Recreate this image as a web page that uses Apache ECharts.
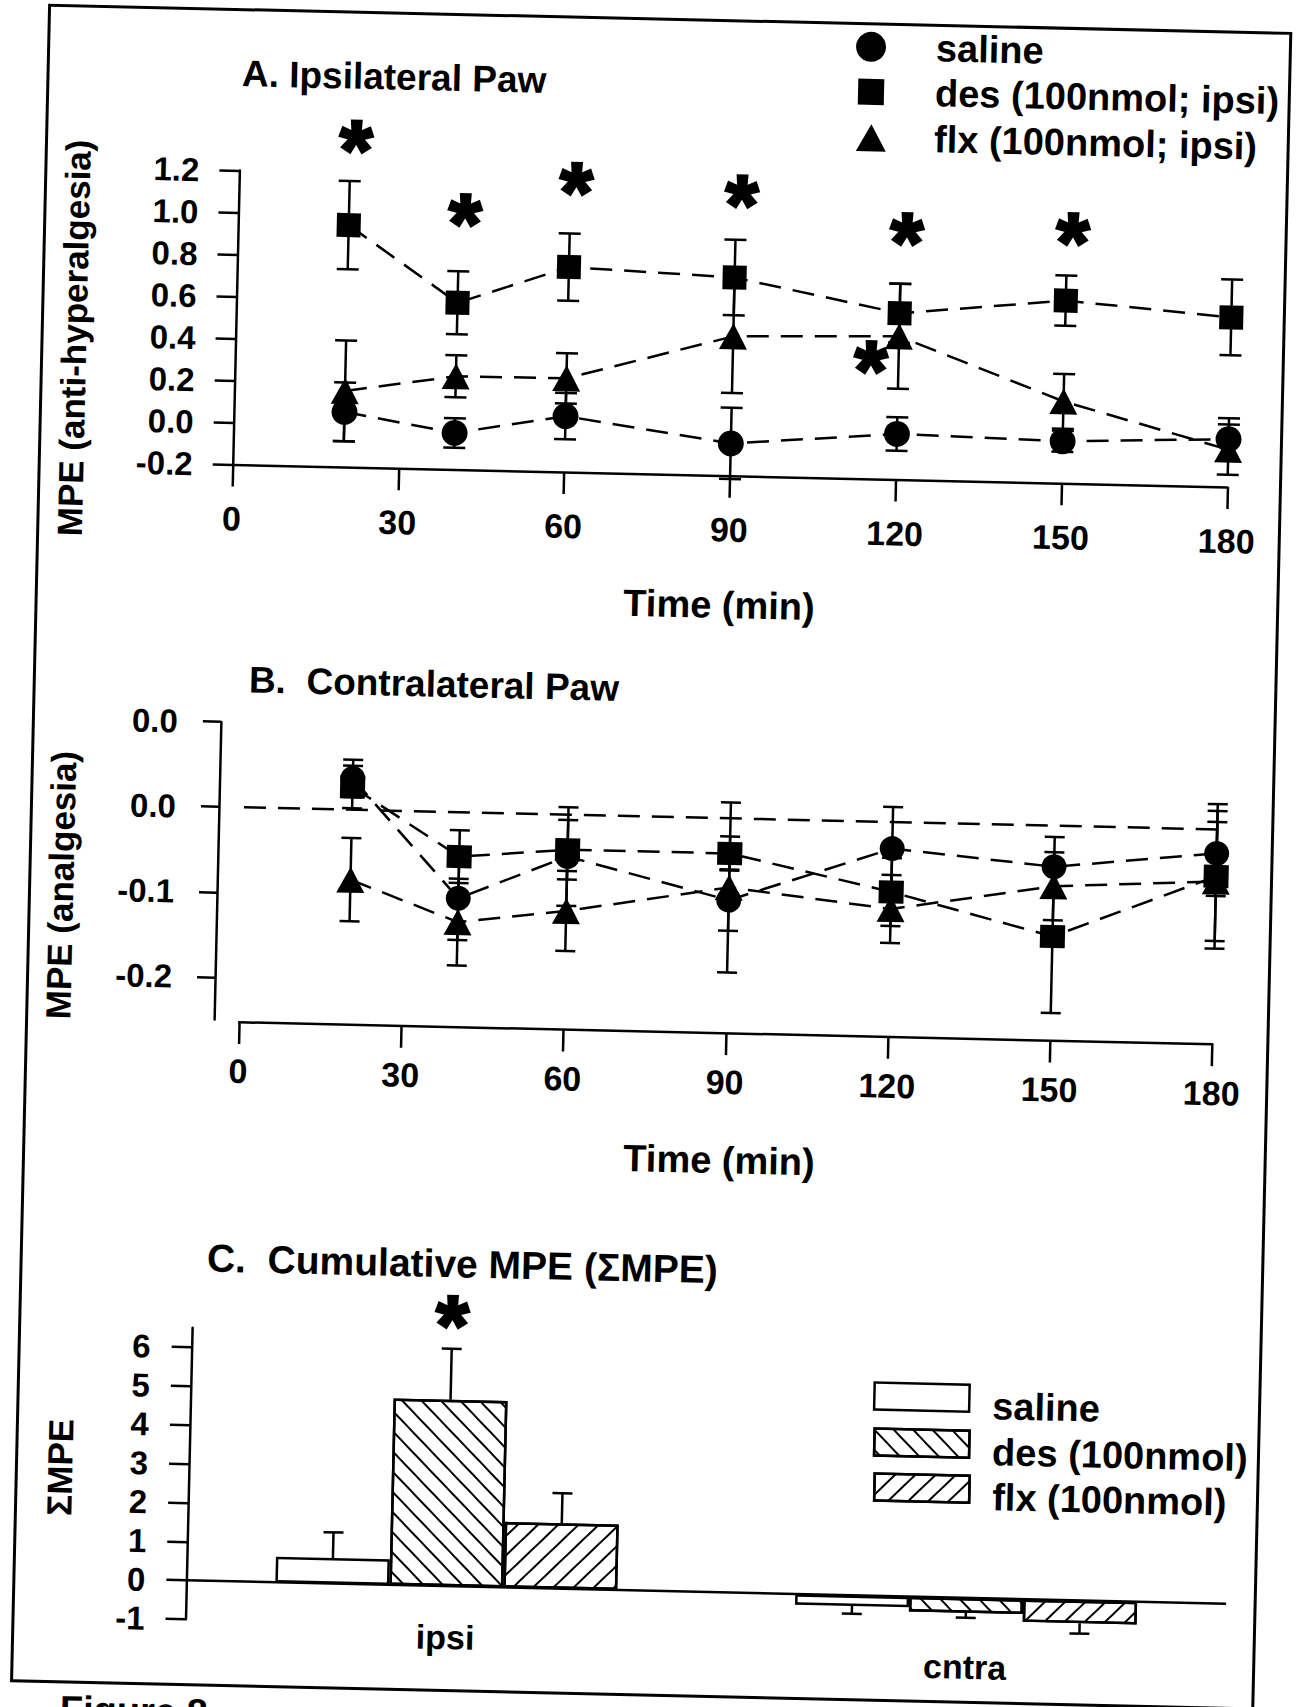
<!DOCTYPE html>
<html>
<head>
<meta charset="utf-8">
<script src="https://cdn.jsdelivr.net/npm/echarts@6/dist/echarts.min.js"></script>
<style>
html,body{margin:0;padding:0;background:#fff;overflow:hidden;width:1297px;height:1707px}
/* the scanned figure is tilted by about 1.3 degrees */
#c{width:1297px;height:1760px;transform-origin:648.5px 853.5px;transform:rotate(1.3deg)}
</style>
</head>
<body>
<div id="c"></div>
<script>
// ---------- DATA ----------
// time points (min), panels A and B
const times = [20, 40, 60, 90, 120, 150, 180];

// Panel A: Ipsilateral paw, MPE (anti-hyperalgesia), mean and SEM
const ipsiSaline    = [0.062, -0.026, 0.066, -0.046, 0.017, 0.000, 0.028];
const ipsiSalineErr = [0.14, 0.07, 0.11, 0.17, 0.08, 0.05, 0.10];
const ipsiDes       = [0.952, 0.594, 0.776, 0.744, 0.592, 0.670, 0.608];
const ipsiDesErr    = [0.21, 0.15, 0.16, 0.18, 0.14, 0.12, 0.18];
const ipsiFlx       = [0.162, 0.244, 0.246, 0.464, 0.482, 0.190, -0.022];
const ipsiFlxErr    = [0.24, 0.10, 0.12, 0.27, 0.25, 0.13, 0.12];
// significance asterisks in panel A (time, MPE)
const ipsiStarX = [21, 41, 61, 91, 121, 151, 115];
const ipsiStarY = [1.363, 1.025, 1.186, 1.144, 0.982, 1.000, 0.369];

// Panel B: Contralateral paw, MPE (analgesia)
const cntraSaline    = [0.037, -0.101, -0.049, -0.096, -0.031, -0.048, -0.028];
const cntraSalineErr = [0.022, 0.049, 0.058, 0.036, 0.049, 0.035, 0.050];
const cntraDes       = [0.027, -0.052, -0.041, -0.041, -0.082, -0.130, -0.055];
const cntraDesErr    = [0.025, 0.031, 0.035, 0.020, 0.040, 0.090, 0.085];
const cntraFlx       = [-0.082, -0.129, -0.113, -0.081, -0.102, -0.071, -0.061];
const cntraFlxErr    = [0.049, 0.051, 0.047, 0.100, 0.040, 0.040, 0.070];
const yTickValuesB = [-0.2, -0.1, 0, 0.1];
const yTickLabelsB = ['-0.2', '-0.1', '0.0', '0.0'];

// Panel C: Cumulative MPE
const groups = ['ipsi', 'cntra'];
const sumSaline    = [0.66, -0.27];
const sumSalineErr = [0.66, 0.20];
const sumDes       = [4.80, -0.38];
const sumDesErr    = [1.31, 0.13];
const sumFlx       = [1.69, -0.58];
const sumFlxErr    = [0.77, 0.27];
const sumStarGroup = [0];          // index into groups ('ipsi')
const sumStarY     = [7.0];
const yTickValuesC = [-1, 0, 1, 2, 3, 4, 5, 6];
const legendNamesC = ['saline', 'des (100nmol)', 'flx (100nmol)'];
const legendNamesA = ['saline', 'des (100nmol; ipsi)', 'flx (100nmol; ipsi)'];

// ---------- CHART ----------
const F = '"Liberation Sans", Arial, Helvetica, sans-serif';
const LW = 2.5;
const chart = echarts.init(document.getElementById('c'), null, {renderer: 'svg'});

const lbl = (size, extra) => Object.assign({color: '#000', fontFamily: F, fontWeight: 'bold', fontSize: size}, extra || {});
const axisLine = {show: true, onZero: false, lineStyle: {color: '#000', width: LW}};
const tick = (len, extra) => Object.assign({show: true, inside: false, length: len, lineStyle: {color: '#000', width: LW}}, extra || {});

function errSeries(xi, xs, ys, es, cap) {
  return {
    type: 'custom', xAxisIndex: xi, yAxisIndex: xi, z: 2, silent: true, clip: false,
    encode: {x: 0, y: 1},
    data: xs.map((x, i) => [x, ys[i], es[i]]),
    renderItem: (params, api) => {
      const x = api.value(0), y = api.value(1), e = api.value(2);
      const p1 = api.coord([x, y + e]), p2 = api.coord([x, y - e]);
      const st = {stroke: '#000', lineWidth: LW, fill: null};
      return {type: 'group', children: [
        {type: 'line', shape: {x1: p1[0], y1: p1[1], x2: p2[0], y2: p2[1]}, style: st},
        {type: 'line', shape: {x1: p1[0] - cap, y1: p1[1], x2: p1[0] + cap, y2: p1[1]}, style: st},
        {type: 'line', shape: {x1: p2[0] - cap, y1: p2[1], x2: p2[0] + cap, y2: p2[1]}, style: st}
      ]};
    }
  };
}
function lineSeries(name, xi, xs, ys, symbol, size, extra) {
  return Object.assign({
    type: 'line', name: name, xAxisIndex: xi, yAxisIndex: xi, z: 3, silent: true,
    data: xs.map((x, i) => [x, ys[i]]),
    symbol: symbol, symbolSize: size, showSymbol: true, showAllSymbol: true,
    itemStyle: {color: '#000'},
    lineStyle: {color: '#000', width: LW, type: [22, 12]}
  }, extra || {});
}
function barErr(vals, errs, off) {
  return {
    type: 'custom', xAxisIndex: 2, yAxisIndex: 2, z: 1, silent: true, clip: false,
    encode: {x: 0, y: 1},
    data: vals.map((v, i) => [i, v, errs[i]]),
    renderItem: (params, api) => {
      const i = api.value(0), v = api.value(1), e = api.value(2);
      const a = api.coord([i, v]);
      const b = api.coord([i, v >= 0 ? v + e : v - e]);
      const x = a[0] + off;
      const st = {stroke: '#000', lineWidth: LW, fill: null};
      return {type: 'group', children: [
        {type: 'line', shape: {x1: x, y1: a[1], x2: x, y2: b[1]}, style: st},
        {type: 'line', shape: {x1: x - 10, y1: b[1], x2: x + 10, y2: b[1]}, style: st}
      ]};
    }
  };
}
// significance asterisks drawn as text at data coordinates
function starSeries(ai, xs, ys) {
  return {
    type: 'custom', xAxisIndex: ai, yAxisIndex: ai, z: 6, silent: true, clip: false,
    encode: {x: 0, y: 1},
    data: xs.map((x, i) => [x, ys[i]]),
    renderItem: (params, api) => {
      const p = api.coord([api.value(0), api.value(1)]);
      return {type: 'text', x: p[0], y: p[1] + 11,
        style: {text: '*', fill: '#000', stroke: '#000', lineWidth: 3,
                font: 'bold 84px ' + F, align: 'center', verticalAlign: 'middle'}};
    }
  };
}
const hatch = (rot) => ({symbol: 'rect', symbolSize: 1, dashArrayX: [1, 0], dashArrayY: [2, 12], rotation: rot, color: '#000', backgroundColor: '#fff'});

const legTextA = (padL) => ({color: '#000', fontFamily: F, fontWeight: 'bold', fontSize: 38, lineHeight: 40, padding: [12, 0, 0, padL]});
const legTextC = {
  color: '#000', fontFamily: F, fontWeight: 'bold', fontSize: 38, padding: [0, 0, 0, 17],
  rich: {
    g: {fontSize: 2, lineHeight: 53, width: 1},
    t: {color: '#000', fontFamily: F, fontWeight: 'bold', fontSize: 38, lineHeight: 40, verticalAlign: 'bottom'}
  }
};
const legC = (name, left, top) => ({
  data: [{name: name, icon: 'rect'}], left: left, top: top, padding: 0, itemWidth: 95, itemHeight: 27,
  selectedMode: false, textStyle: legTextC, itemStyle: {borderColor: '#000', borderWidth: LW},
  formatter: (n) => '{g| }{t|' + legendNamesC[['saline C', 'des C', 'flx C'].indexOf(n)] + '}'
});

function txt(text, x, y, size, align, rot) {
  return {type: 'text', x: x, y: y, rotation: rot || 0, silent: true,
    style: {text: text, fill: '#000', font: 'bold ' + size + 'px ' + F, align: align || 'left', verticalAlign: 'middle'}};
}

const option = {
  animation: false,
  backgroundColor: '#fff',
  grid: [
    {left: 224, top: 180, width: 995, height: 294},
    {left: 243, top: 731.7, width: 973.5, height: 297.6},
    {left: 203, top: 1338, width: 1040, height: 291.5}
  ],
  xAxis: [
    {gridIndex: 0, type: 'value', min: 0, max: 180, interval: 30, axisLine: axisLine, axisTick: tick(22),
     splitLine: {show: false}, axisLabel: lbl(34, {margin: 37})},
    {gridIndex: 1, type: 'value', min: 0, max: 180, interval: 30, offset: 2, axisLine: axisLine, axisTick: tick(22),
     splitLine: {show: false}, axisLabel: lbl(34, {margin: 32})},
    {gridIndex: 2, type: 'category',
     data: [groups[0], {value: groups[1], textStyle: {padding: [18, 0, 0, 0]}}],
     axisLine: {show: false, onZero: false}, axisTick: {show: false},
     splitLine: {show: false}, axisLabel: lbl(34, {margin: -5})}
  ],
  yAxis: [
    {gridIndex: 0, type: 'value', min: -0.2, max: 1.2, interval: 0.2, axisLine: axisLine, axisTick: tick(20),
     splitLine: {show: false},
     axisLabel: lbl(33, {margin: 40, formatter: v => (Math.abs(v) < 1e-9 ? 0 : v).toFixed(1)})},
    {gridIndex: 1, type: 'value', min: -0.25, max: 0.1, offset: 25, axisLine: axisLine,
     axisTick: tick(18, {customValues: yTickValuesB}), splitLine: {show: false},
     axisLabel: lbl(33, {margin: 43, customValues: yTickValuesB, formatter: v => {
       let best = 0; yTickValuesB.forEach((t, i) => { if (Math.abs(t - v) < Math.abs(yTickValuesB[best] - v)) best = i; });
       return yTickLabelsB[best]; }})},
    {gridIndex: 2, type: 'value', min: -1, max: 6.5, axisLine: axisLine,
     axisTick: tick(20, {customValues: yTickValuesC}), splitLine: {show: false},
     axisLabel: lbl(33, {margin: 41, customValues: yTickValuesC, formatter: v => String(Math.round(v))})}
  ],
  legend: [
    {data: [{name: legendNamesA[0], icon: 'circle'}], left: 837.7, top: 16, padding: 0, itemWidth: 30, itemHeight: 30, selectedMode: false, textStyle: legTextA(45)},
    {data: [{name: legendNamesA[1], icon: 'rect'}], left: 840.7, top: 61, padding: 0, itemWidth: 26, itemHeight: 26, selectedMode: false, textStyle: legTextA(46)},
    {data: [{name: legendNamesA[2], icon: 'triangle'}], left: 839.8, top: 107, padding: 0, itemWidth: 30, itemHeight: 27, selectedMode: false, textStyle: legTextA(43)},
    legC('saline C', 885.4, 1376), legC('des C', 886.4, 1422), legC('flx C', 887.5, 1467)
  ],
  graphic: [
    {type: 'rect', silent: true, shape: {x: 30.5, y: 19, width: 1241.5, height: 1676}, style: {fill: 'none', stroke: '#000', lineWidth: 3}},
    txt('A. Ipsilateral Paw', 224.4, 83, 37),
    txt('B.\u00a0 Contralateral Paw', 245.1, 689, 37),
    txt('C.\u00a0 Cumulative MPE (\u03A3MPE)', 216.3, 1268, 39),
    txt('Time (min)', 713.4, 603.4, 38, 'center'),
    txt('Time (min)', 726, 1158.4, 38, 'center'),
    txt('MPE (anti-hyperalgesia)', 62.3, 351, 35, 'center', Math.PI / 2),
    txt('MPE (analgesia)', 61.7, 898.3, 35, 'center', Math.PI / 2),
    txt('\u03A3MPE', 73.9, 1480.4, 35, 'center', Math.PI / 2),
    txt('Figure 8', 79.4, 1722.4, 38)
  ],
  series: [
    // Panel A
    errSeries(0, times, ipsiSaline, ipsiSalineErr, 11),
    errSeries(0, times, ipsiDes, ipsiDesErr, 11),
    errSeries(0, times, ipsiFlx, ipsiFlxErr, 11),
    lineSeries(legendNamesA[0], 0, times, ipsiSaline, 'circle', 26),
    lineSeries(legendNamesA[1], 0, times, ipsiDes, 'rect', 24),
    lineSeries(legendNamesA[2], 0, times, ipsiFlx, 'triangle', [28, 26]),
    starSeries(0, ipsiStarX, ipsiStarY),
    // Panel B
    errSeries(1, times, cntraSaline, cntraSalineErr, 10),
    errSeries(1, times, cntraDes, cntraDesErr, 10),
    errSeries(1, times, cntraFlx, cntraFlxErr, 10),
    lineSeries('saline B', 1, times, cntraSaline, 'circle', 25, {
      markLine: {silent: true, symbol: ['none', 'none'], label: {show: false},
                 lineStyle: {color: '#000', width: LW, type: [22, 12]}, data: [{yAxis: 0}]}}),
    lineSeries('des B', 1, times, cntraDes, 'rect', [25, 23]),
    lineSeries('flx B', 1, times, cntraFlx, 'triangle', [28, 26]),
    // Panel C
    {type: 'bar', name: 'saline C', xAxisIndex: 2, yAxisIndex: 2, z: 2, silent: true, data: sumSaline,
     barWidth: 114, barGap: '0%', itemStyle: {color: '#fff', borderColor: '#000', borderWidth: LW},
     markLine: {silent: true, symbol: ['none', 'none'], label: {show: false},
                lineStyle: {color: '#000', width: LW, type: 'solid'}, data: [{yAxis: 0}]}},
    {type: 'bar', name: 'des C', xAxisIndex: 2, yAxisIndex: 2, z: 2, silent: true, data: sumDes,
     barWidth: 114, barGap: '0%', itemStyle: {color: '#fff', borderColor: '#000', borderWidth: LW, decal: hatch(Math.PI / 4)}},
    {type: 'bar', name: 'flx C', xAxisIndex: 2, yAxisIndex: 2, z: 2, silent: true, data: sumFlx,
     barWidth: 114, barGap: '0%', itemStyle: {color: '#fff', borderColor: '#000', borderWidth: LW, decal: hatch(-Math.PI / 4)}},
    barErr(sumSaline, sumSalineErr, -114),
    barErr(sumDes, sumDesErr, 0),
    barErr(sumFlx, sumFlxErr, 114),
    starSeries(2, sumStarGroup, sumStarY)
  ]
};
chart.setOption(option);
</script>
</body>
</html>
